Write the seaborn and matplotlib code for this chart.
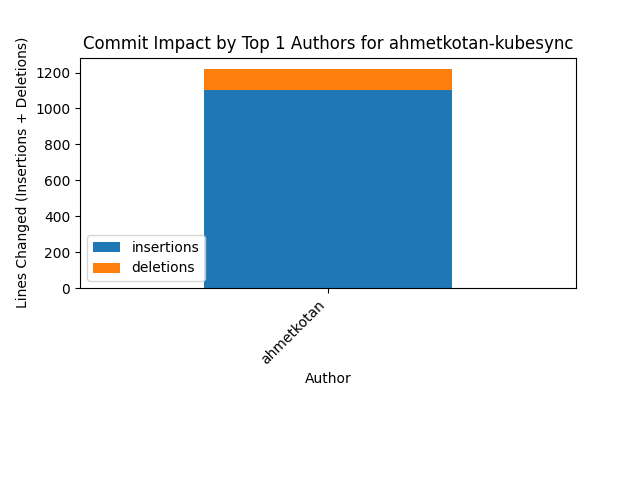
import matplotlib
matplotlib.use("Agg")
import matplotlib.pyplot as plt
import seaborn as sns
import pandas as pd

authors = ["ahmetkotan"]
insertions = [1103]
deletions = [119]

df = pd.DataFrame({"author": authors, "insertions": insertions, "deletions": deletions})
df["total"] = df["insertions"] + df["deletions"]

fig, ax = plt.subplots(figsize=(6.4, 4.8), dpi=100)
sns.barplot(data=df, x="author", y="total", color="#ff7f0e", width=0.5,
            saturation=1, ax=ax, label="deletions")
sns.barplot(data=df, x="author", y="insertions", color="#1f77b4", width=0.5,
            saturation=1, ax=ax, label="insertions")
ax.set_xlim(-0.5, 0.5)
ax.set_ylim(0, df["total"].max() * 1.05)
handles, labels = ax.get_legend_handles_labels()
order = [labels.index("insertions"), labels.index("deletions")]
ax.legend([handles[i] for i in order], [labels[i] for i in order], loc="lower left")
ax.set_title("Commit Impact by Top 1 Authors for ahmetkotan-kubesync")
ax.set_xlabel("Author")
ax.set_ylabel("Lines Changed (Insertions + Deletions)")
plt.setp(ax.get_xticklabels(), rotation=45, ha="right")
fig.subplots_adjust(left=0.125, right=0.9, top=0.88, bottom=0.4)
fig.savefig("out.png", dpi=100)
